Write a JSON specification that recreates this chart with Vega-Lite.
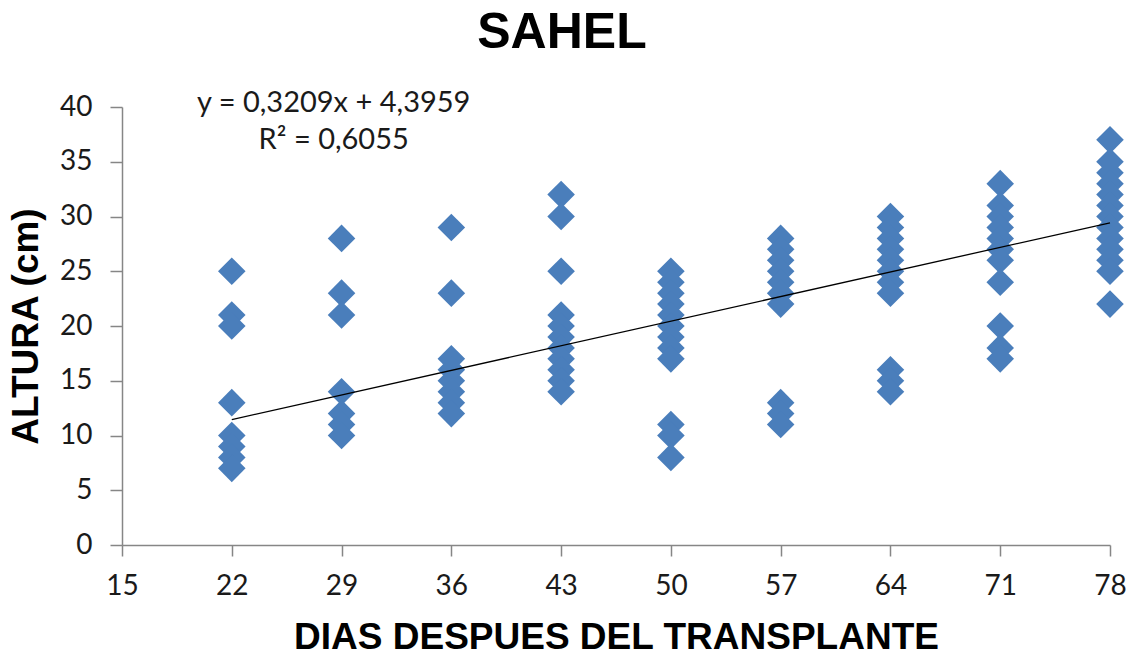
{
  "$schema": "https://vega.github.io/schema/vega-lite/v6.json",
  "autosize": {"type": "none"},
  "width": 988,
  "height": 438,
  "padding": {"left": 122, "top": 107, "right": 26, "bottom": 117},
  "background": "white",
  "title": {
    "text": "SAHEL",
    "font": "Liberation Sans",
    "fontSize": 50,
    "fontWeight": "bold",
    "color": "#000000",
    "anchor": "middle",
    "baseline": "alphabetic",
    "offset": -9,
    "dx": -54
  },
  "datasets": {
    "points": [
      {"dias": 22, "altura": 25}, {"dias": 22, "altura": 21}, {"dias": 22, "altura": 20}, {"dias": 22, "altura": 13},
      {"dias": 22, "altura": 10}, {"dias": 22, "altura": 9}, {"dias": 22, "altura": 8}, {"dias": 22, "altura": 7},
      {"dias": 29, "altura": 28}, {"dias": 29, "altura": 23}, {"dias": 29, "altura": 21}, {"dias": 29, "altura": 14},
      {"dias": 29, "altura": 12}, {"dias": 29, "altura": 11}, {"dias": 29, "altura": 10},
      {"dias": 36, "altura": 29}, {"dias": 36, "altura": 23}, {"dias": 36, "altura": 17}, {"dias": 36, "altura": 16},
      {"dias": 36, "altura": 15}, {"dias": 36, "altura": 14}, {"dias": 36, "altura": 13}, {"dias": 36, "altura": 12},
      {"dias": 43, "altura": 32}, {"dias": 43, "altura": 30}, {"dias": 43, "altura": 25}, {"dias": 43, "altura": 21},
      {"dias": 43, "altura": 20}, {"dias": 43, "altura": 19}, {"dias": 43, "altura": 18}, {"dias": 43, "altura": 17},
      {"dias": 43, "altura": 16}, {"dias": 43, "altura": 15}, {"dias": 43, "altura": 14},
      {"dias": 50, "altura": 25}, {"dias": 50, "altura": 24}, {"dias": 50, "altura": 23}, {"dias": 50, "altura": 22},
      {"dias": 50, "altura": 21}, {"dias": 50, "altura": 20}, {"dias": 50, "altura": 19}, {"dias": 50, "altura": 18},
      {"dias": 50, "altura": 17}, {"dias": 50, "altura": 11}, {"dias": 50, "altura": 10}, {"dias": 50, "altura": 8},
      {"dias": 57, "altura": 28}, {"dias": 57, "altura": 27}, {"dias": 57, "altura": 26}, {"dias": 57, "altura": 25},
      {"dias": 57, "altura": 24}, {"dias": 57, "altura": 23}, {"dias": 57, "altura": 22}, {"dias": 57, "altura": 13},
      {"dias": 57, "altura": 12}, {"dias": 57, "altura": 11},
      {"dias": 64, "altura": 30}, {"dias": 64, "altura": 29}, {"dias": 64, "altura": 28}, {"dias": 64, "altura": 27},
      {"dias": 64, "altura": 26}, {"dias": 64, "altura": 25}, {"dias": 64, "altura": 24}, {"dias": 64, "altura": 23},
      {"dias": 64, "altura": 16}, {"dias": 64, "altura": 15}, {"dias": 64, "altura": 14},
      {"dias": 71, "altura": 33}, {"dias": 71, "altura": 31}, {"dias": 71, "altura": 30}, {"dias": 71, "altura": 29},
      {"dias": 71, "altura": 28}, {"dias": 71, "altura": 27}, {"dias": 71, "altura": 26}, {"dias": 71, "altura": 24},
      {"dias": 71, "altura": 20}, {"dias": 71, "altura": 18}, {"dias": 71, "altura": 17},
      {"dias": 78, "altura": 37}, {"dias": 78, "altura": 35}, {"dias": 78, "altura": 34}, {"dias": 78, "altura": 33},
      {"dias": 78, "altura": 32}, {"dias": 78, "altura": 31}, {"dias": 78, "altura": 30}, {"dias": 78, "altura": 29},
      {"dias": 78, "altura": 28}, {"dias": 78, "altura": 27}, {"dias": 78, "altura": 26}, {"dias": 78, "altura": 25},
      {"dias": 78, "altura": 22}
    ],
    "trend": [
      {"dias": 22, "altura": 11.456},
      {"dias": 78, "altura": 29.426}
    ],
    "labels": [
      {"dias": 28.5, "altura": 40.4, "texto": "y = 0,3209x + 4,3959"},
      {"dias": 28.5, "altura": 37.0, "texto": "R² = 0,6055"}
    ]
  },
  "encoding": {
    "x": {
      "field": "dias",
      "type": "quantitative",
      "scale": {"domain": [15, 78], "nice": false, "zero": false},
      "axis": {
        "title": "DIAS DESPUES DEL TRANSPLANTE",
        "values": [15, 22, 29, 36, 43, 50, 57, 64, 71, 78],
        "grid": false,
        "domainColor": "#868686",
        "domainWidth": 1.5,
        "tickColor": "#868686",
        "tickWidth": 1.5,
        "tickSize": 11,
        "labelFont": "Lato",
        "labelFontSize": 28,
        "labelColor": "#1a1a1a",
        "labelPadding": 16,
        "labelFlush": false,
        "titleFont": "Liberation Sans",
        "titleFontSize": 37,
        "titleFontWeight": "bold",
        "titleColor": "#000000",
        "titlePadding": 19
      }
    },
    "y": {
      "field": "altura",
      "type": "quantitative",
      "scale": {"domain": [0, 40], "nice": false},
      "axis": {
        "title": "ALTURA (cm)",
        "values": [0, 5, 10, 15, 20, 25, 30, 35, 40],
        "grid": false,
        "domainColor": "#868686",
        "domainWidth": 1.5,
        "tickColor": "#868686",
        "tickWidth": 1.5,
        "tickSize": 12,
        "labelFont": "Lato",
        "labelFontSize": 28,
        "labelColor": "#1a1a1a",
        "labelPadding": 18,
        "labelFlush": false,
        "titleFont": "Liberation Sans",
        "titleFontSize": 37,
        "titleFontWeight": "bold",
        "titleColor": "#000000",
        "titlePadding": 14
      }
    }
  },
  "layer": [
    {
      "data": {"name": "points"},
      "mark": {"type": "point", "shape": "diamond", "filled": true, "size": 760, "color": "#4a7ebb", "opacity": 1}
    },
    {
      "data": {"name": "trend"},
      "mark": {"type": "line", "color": "#000000", "strokeWidth": 1.3}
    },
    {
      "data": {"name": "labels"},
      "mark": {"type": "text", "font": "Lato", "fontSize": 29, "color": "#1a1a1a", "align": "center", "baseline": "middle"},
      "encoding": {"text": {"field": "texto"}}
    }
  ],
  "config": {"view": {"stroke": null}}
}
